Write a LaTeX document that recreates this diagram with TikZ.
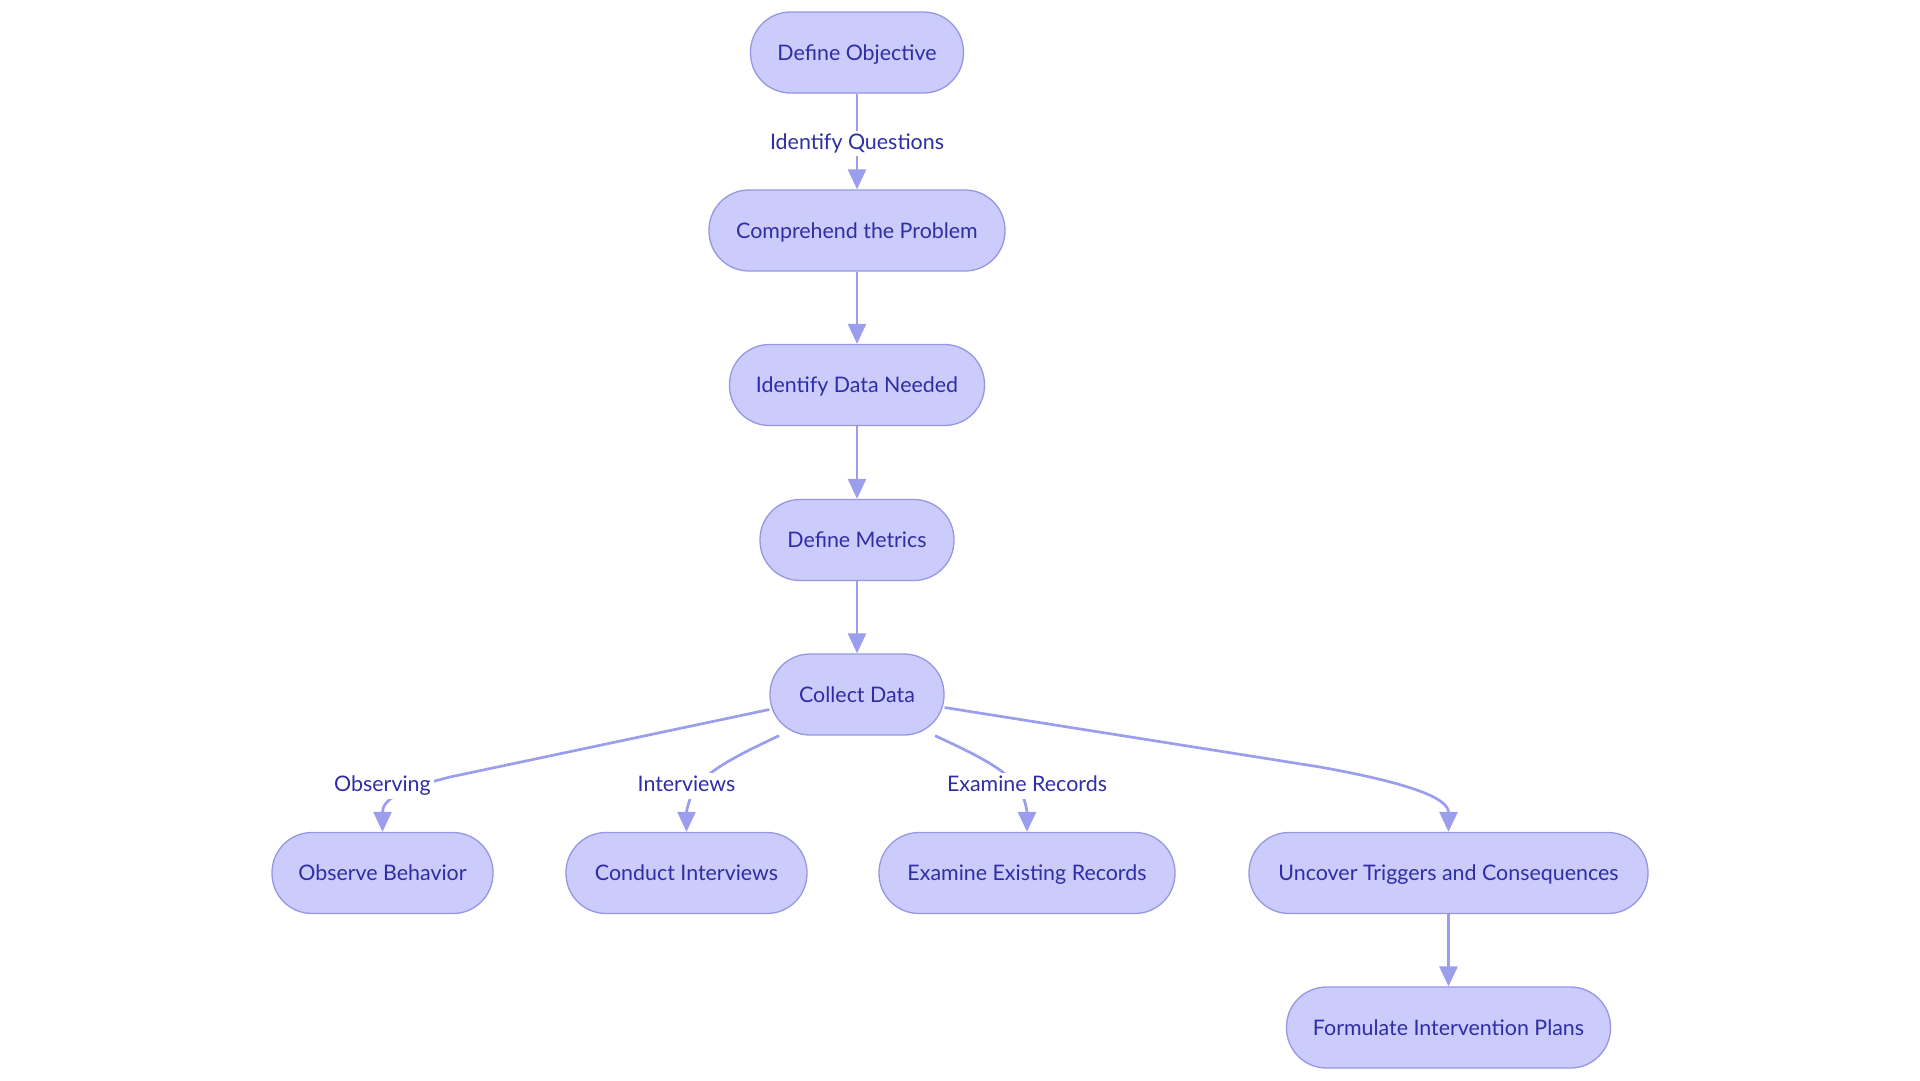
\documentclass[tikz,border=0pt]{standalone}
\usepackage{fontspec}
\setmainfont{Lato}
\usetikzlibrary{arrows.meta,calc}
\definecolor{nodefill}{RGB}{203,203,252}
\definecolor{nodeborder}{RGB}{150,150,228}
\definecolor{edgecol}{RGB}{154,158,236}
\definecolor{txt}{RGB}{46,46,165}
\tikzset{
  box/.style={draw=nodeborder, line width=1.3pt, fill=nodefill, rounded corners=40pt,
    minimum height=81pt, text=txt, font=\fontsize{21.4}{25}\selectfont, inner sep=0pt,
    text height=15.5pt, text depth=0pt},
  edge/.style={draw=edgecol, line width=2.7pt, -{Triangle[length=20pt,width=18pt]}},
  lab/.style={fill=white, text=txt, font=\fontsize{21.4}{25}\selectfont, inner sep=3pt,
    text height=15.5pt, text depth=4pt}
}
\begin{document}
\begin{tikzpicture}[x=1pt,y=-1pt]
\useasboundingbox (0,0) rectangle (1920,1080);
% nodes
\node[box, minimum width=213pt] (do) at (857,52.5) {Define Objective};
\node[box, minimum width=296pt] (cp) at (857,230.5) {Comprehend the Problem};
\node[box, minimum width=255pt] (idn) at (857,385) {Identify Data Needed};
\node[box, minimum width=194pt] (dm) at (857,540) {Define Metrics};
\node[box, minimum width=174pt] (cd) at (857,694.5) {Collect Data};
\node[box, minimum width=221pt] (ob) at (382.5,873) {Observe Behavior};
\node[box, minimum width=241pt] (ci) at (686.5,873) {Conduct Interviews};
\node[box, minimum width=296pt] (ee) at (1027,873) {Examine Existing Records};
\node[box, minimum width=399pt] (ut) at (1448.5,873) {Uncover Triggers and Consequences};
\node[box, minimum width=324pt] (fp) at (1448.5,1027.5) {Formulate Intervention Plans};
% straight edges
\draw[edge] (do) -- node[lab, midway, yshift=-2pt] (lq) {Identify Questions} (cp);
\draw[edge] (cp) -- (idn);
\draw[edge] (idn) -- (dm);
\draw[edge] (dm) -- (cd);
\draw[edge] (ut) -- (fp);
% curved edges from Collect Data
\draw[edge] ($(cd.west)+(0,15)$) -- (450,777) .. controls (398,790) and (382.5,800) .. (ob.north);
\draw[edge] ($(cd.south)+(-78,0)$) .. controls (745,752) and (705,770) .. (693,792) .. controls (688,802) and (686.5,812) .. (ci.north);
\draw[edge] ($(cd.south)+(78,0)$) .. controls (970,752) and (1010,770) .. (1021,792) .. controls (1026,802) and (1027,812) .. (ee.north);
\draw[edge] ($(cd.east)+(0,13)$) -- (1320,767) .. controls (1420,785) and (1448.5,800) .. (ut.north);
% edge labels
\node[lab] (lo) at (382.5,786) {Observing};
\node[lab] (li) at (686.5,786) {Interviews};
\node[lab] (le) at (1027,786) {Examine Records};
\end{tikzpicture}
\end{document}
